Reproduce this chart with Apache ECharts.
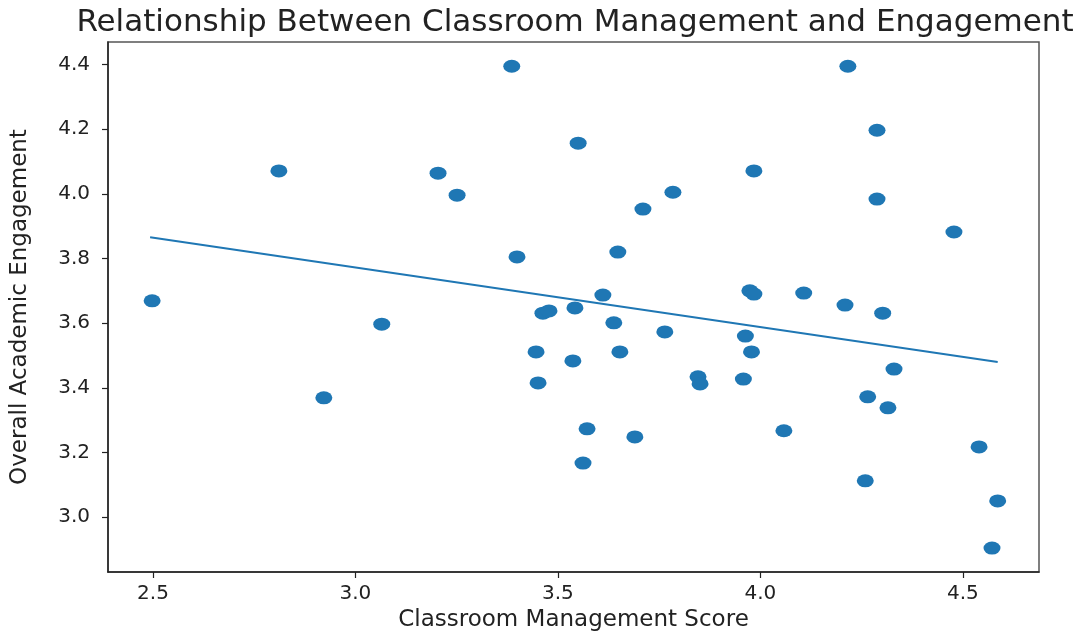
<!DOCTYPE html>
<html lang="en">
<head>
    <meta charset="UTF-8">
    <title>Relationship Between Classroom Management and Engagement</title>
    <script src="https://cdn.jsdelivr.net/npm/echarts@6.0.0/dist/echarts.min.js"></script>
    <style type="text/css">
        *{margin:0;padding:0;}
        body{background:#fff;}
        #main{width:1076px;height:637px;}
    </style>
</head>
<body>
<div id="main"></div>

<script type="text/javascript">
    // classroom management score (x) and overall academic engagement (y)
    var mgmtScore = [2.498, 2.811, 2.922, 3.065, 3.204, 3.251, 3.386, 3.399, 3.446, 3.451,
        3.463, 3.478, 3.537, 3.542, 3.550, 3.562, 3.572, 3.611, 3.638, 3.648,
        3.653, 3.690, 3.710, 3.764, 3.784, 3.846, 3.851, 3.958, 3.963, 3.974,
        3.984, 3.978, 3.984, 4.058, 4.107, 4.209, 4.216, 4.259, 4.265, 4.288,
        4.288, 4.302, 4.315, 4.330, 4.478, 4.540, 4.572, 4.586];
    var engagement = [3.669, 4.071, 3.369, 3.597, 4.064, 3.996, 4.395, 3.805, 3.511, 3.415,
        3.631, 3.638, 3.483, 3.647, 4.157, 3.167, 3.273, 3.687, 3.601, 3.820,
        3.511, 3.248, 3.953, 3.573, 4.005, 3.434, 3.412, 3.427, 3.560, 3.700,
        3.690, 3.511, 4.071, 3.267, 3.693, 3.656, 4.395, 3.112, 3.372, 4.197,
        3.984, 3.631, 3.338, 3.458, 3.882, 3.217, 2.904, 3.050];

    // fitted trend line, read at its two ends
    var fitX = [2.493, 4.586];
    var fitY = [3.866, 3.480];

    var xTicks = [2.5, 3.0, 3.5, 4.0, 4.5];
    var yTicks = [3.0, 3.2, 3.4, 3.6, 3.8, 4.0, 4.2, 4.4];

    var points = [];
    for (var i = 0; i < mgmtScore.length; i++) {
        points.push([mgmtScore[i], engagement[i]]);
    }
    var fitLine = [];
    for (var j = 0; j < fitX.length; j++) {
        fitLine.push([fitX[j], fitY[j]]);
    }

    var font = 'DejaVu Sans';
    var blue = '#1f77b4';

    var myChart = echarts.init(document.getElementById('main'));
    var option = {
        backgroundColor: '#fff',
        animation: false,
        title: {
            text: 'Relationship Between Classroom Management and Engagement',
            left: 570,
            top: 2,
            textAlign: 'center',
            textStyle: {
                fontFamily: font,
                fontWeight: 'normal',
                fontSize: 31,
                color: '#222'
            }
        },
        grid: {
            left: 108,
            right: 37,
            top: 42,
            bottom: 64,
            show: true,
            borderColor: '#555',
            borderWidth: 1.5
        },
        xAxis: {
            type: 'value',
            min: 2.389,
            max: 4.688,
            name: 'Classroom Management Score',
            nameLocation: 'middle',
            nameGap: 37,
            nameTextStyle: {
                fontFamily: font,
                fontSize: 23,
                color: '#222'
            },
            axisLine: { lineStyle: { color: '#222', width: 1.5 } },
            axisTick: {
                inside: false,
                length: 6,
                customValues: xTicks,
                lineStyle: { color: '#222', width: 1.2 }
            },
            axisLabel: {
                customValues: xTicks,
                margin: 12,
                fontFamily: font,
                fontSize: 20,
                color: '#222',
                formatter: function (v) { return v.toFixed(1); }
            },
            splitLine: { show: false }
        },
        yAxis: {
            type: 'value',
            min: 2.83,
            max: 4.47,
            name: 'Overall Academic Engagement',
            nameLocation: 'middle',
            nameRotate: 90,
            nameGap: 76,
            nameTextStyle: {
                fontFamily: font,
                fontSize: 23,
                color: '#222'
            },
            axisLine: { show: true, lineStyle: { color: '#222', width: 1.5 } },
            axisTick: {
                show: true,
                inside: false,
                length: 6,
                customValues: yTicks,
                lineStyle: { color: '#222', width: 1.2 }
            },
            axisLabel: {
                customValues: yTicks,
                margin: 18,
                fontFamily: font,
                fontSize: 20,
                color: '#222',
                formatter: function (v) { return v.toFixed(1); }
            },
            splitLine: { show: false }
        },
        series: [{
            name: 'scores',
            type: 'scatter',
            data: points,
            symbol: 'circle',
            symbolSize: [17, 13],
            itemStyle: { color: blue, opacity: 1 }
        }, {
            name: 'fit',
            type: 'line',
            data: fitLine,
            symbol: 'none',
            lineStyle: { color: blue, width: 2 }
        }]
    };
    myChart.setOption(option);
</script>
</body>
</html>
